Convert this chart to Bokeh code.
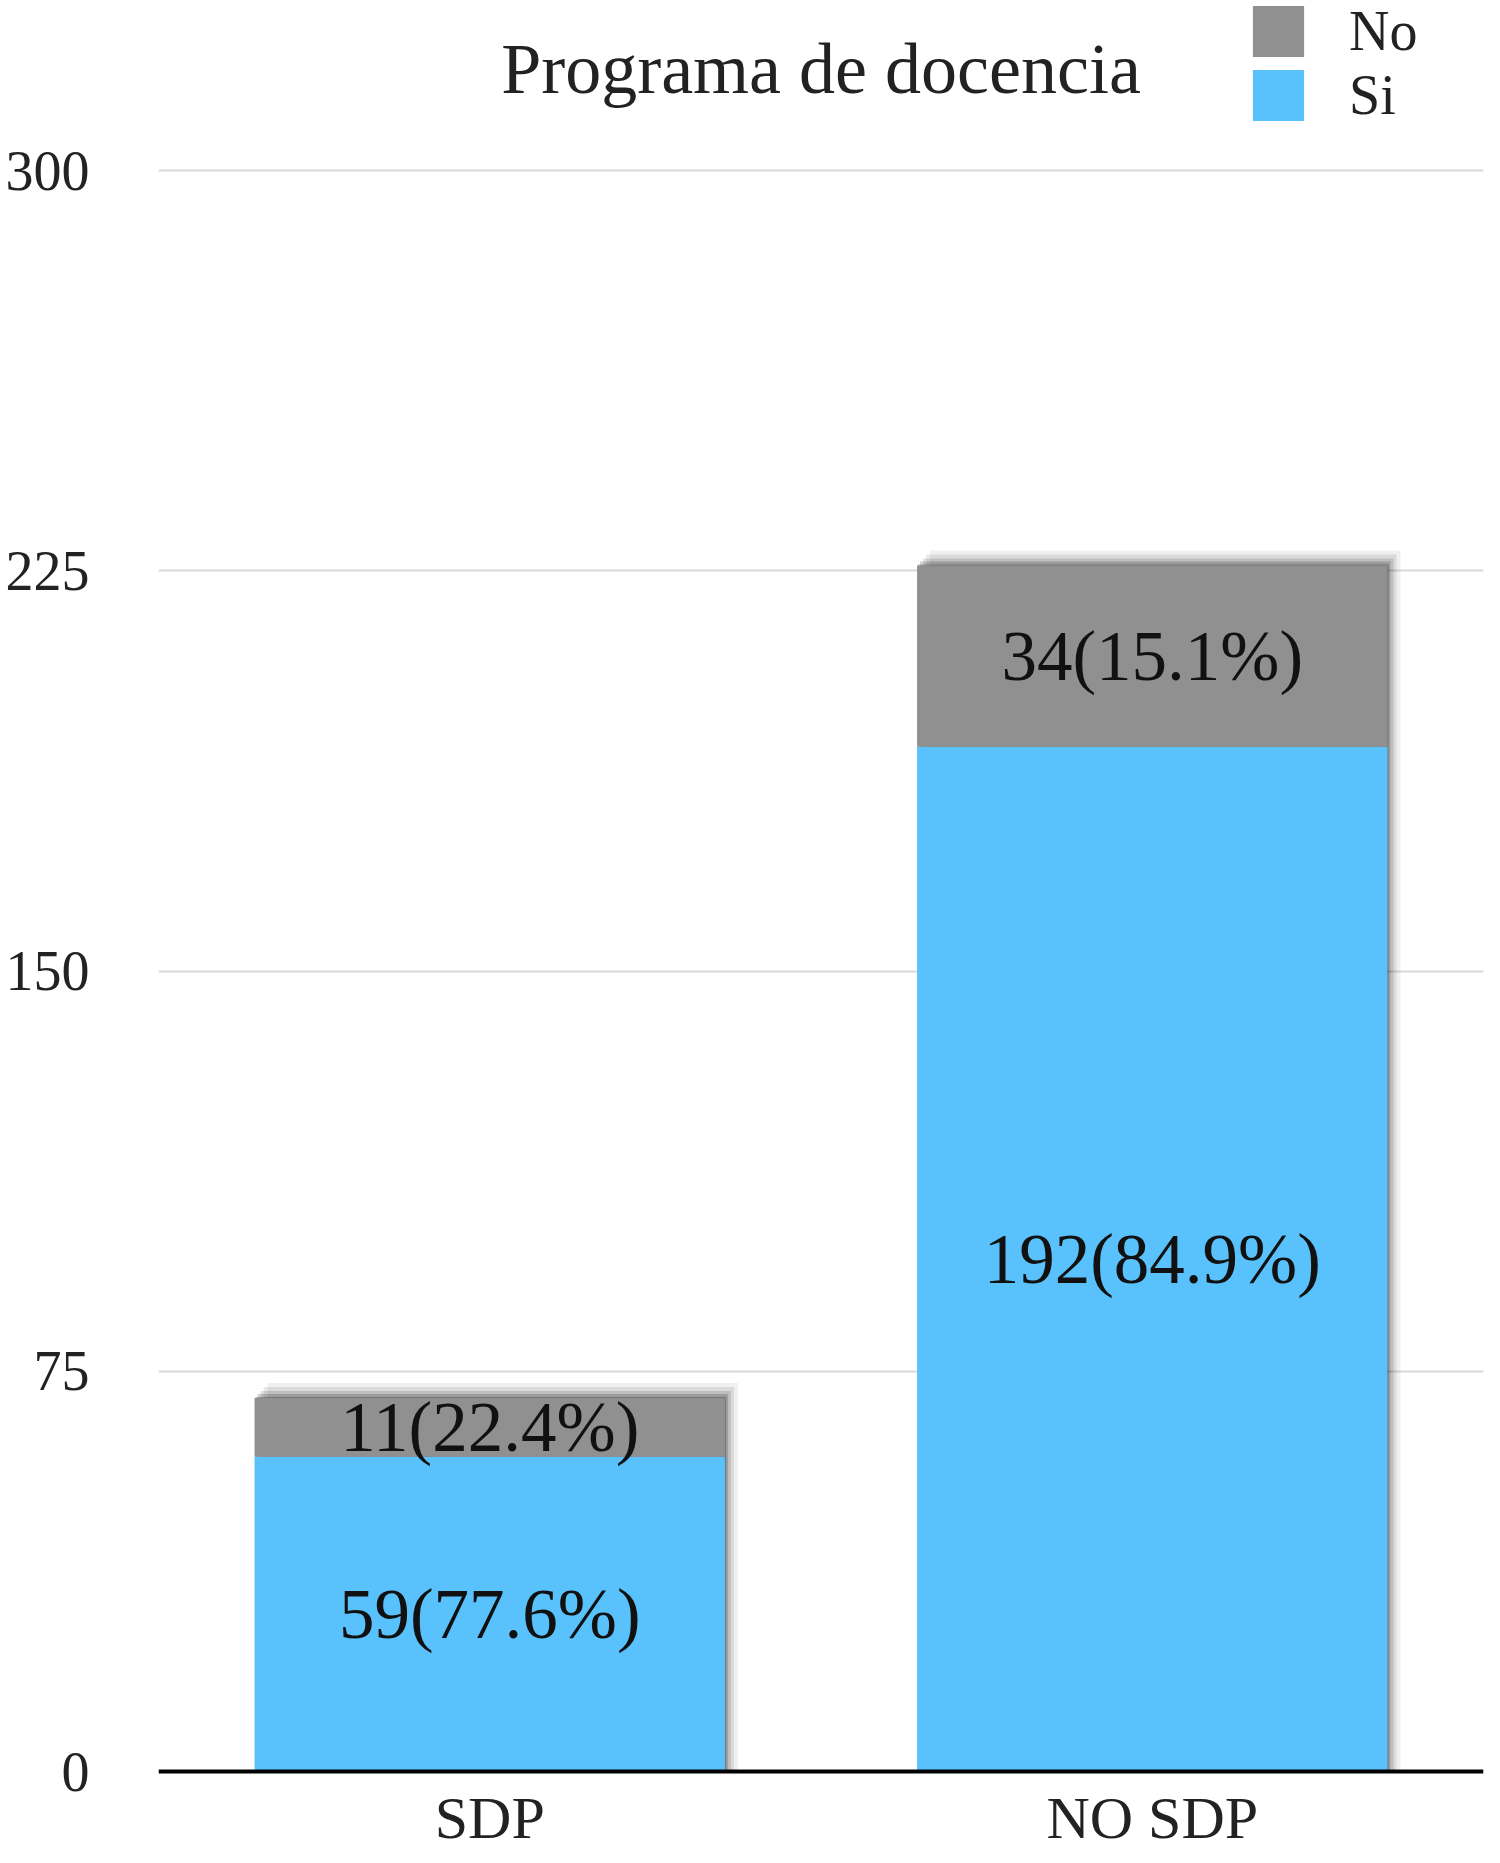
from bokeh.plotting import figure
from bokeh.models import (FactorRange, Range1d, FixedTicker, Label, Legend,
                          LegendItem, ColumnDataSource, Span)
from bokeh.transform import dodge
from bokeh.core.properties import value
from bokeh.embed import file_html
from bokeh.resources import INLINE

# ---- data ----
categories = ["SDP", "NO SDP"]
si_values = [59, 192]
no_values = [11, 34]
si_labels = ["59(77.6%)", "192(84.9%)"]
no_labels = ["11(22.4%)", "34(15.1%)"]
y_ticks = [0, 75, 150, 225, 300]
title_text = "Programa de docencia"
series_names = ["Si", "No"]

# ---- style / layout ----
FONT = "Liberation Serif"
BLUE = "#59c2fd"
GRAY = "#909090"
W, H = 1484, 1855
BAR_W = 0.71
LEFT, RIGHT = 158, 1
TOP_Y = 170                # canvas px of the top tick (300)
ZERO_Y = 1771              # canvas px of the zero line
frame_w = W - LEFT - RIGHT
y_top = max(y_ticks)
ppu = (ZERO_Y - TOP_Y) / y_top
y_start = -(H - ZERO_Y) / ppu
y_end = y_top + TOP_Y / ppu
px_per_cat = frame_w / len(categories)

totals = [s + n for s, n in zip(si_values, no_values)]
data = dict(
    cat=categories, Si=si_values, No=no_values, total=totals,
    zero=[0] * len(categories),
    si_mid=[s / 2 for s in si_values],
    no_mid=[s + n / 2 for s, n in zip(si_values, no_values)],
    si_lbl=si_labels, no_lbl=no_labels,
)
# soft drop shadow layers: (right offset px, top offset px, alpha)
shadow_layers = [(13, 15, 0.06), (9, 11, 0.09), (6, 7, 0.12), (3, 4, 0.18), (1, 1, 0.25)]
for i, (dxp, dyp, a) in enumerate(shadow_layers):
    data[f"sh{i}"] = [t + dyp / ppu for t in totals]
src = ColumnDataSource(data)

p = figure(width=W, height=H, title=None,
           x_range=FactorRange(factors=categories, range_padding=0),
           y_range=Range1d(y_start, y_end),
           output_backend="svg", toolbar_location=None,
           min_border_left=LEFT, min_border_right=RIGHT,
           min_border_top=0, min_border_bottom=0)
p.outline_line_color = None
p.background_fill_color = "white"
p.border_fill_color = "white"

for i, (dxp, dyp, a) in enumerate(shadow_layers):
    p.vbar(x=dodge("cat", dxp / px_per_cat, range=p.x_range), top=f"sh{i}",
           bottom=0, width=BAR_W, source=src, fill_color="black",
           fill_alpha=a, line_color=None)

rs = p.vbar_stack(series_names, x="cat", width=BAR_W, color=[BLUE, GRAY],
                  line_color=None, source=src)
si_r, no_r = rs

for ycol, tcol in [("si_mid", "si_lbl"), ("no_mid", "no_lbl")]:
    p.text(x="cat", y=ycol, text=tcol, source=src, text_align="center",
           text_baseline="middle", text_font=value(FONT),
           text_font_size="71px", text_color="#111111")

# zero baseline
p.add_layout(Span(location=0, dimension="width", line_color="black",
                  line_width=4))

# category labels under the baseline
p.text(x="cat", y="zero", text="cat", source=src, text_align="center",
       text_baseline="middle", y_offset=46, text_font=value(FONT),
       text_font_size="60px", text_color="#222222")

# axes
p.xaxis.visible = False
p.yaxis.ticker = FixedTicker(ticks=y_ticks)
p.yaxis.axis_line_color = None
p.yaxis.major_tick_line_color = None
p.yaxis.major_tick_out = 0
p.yaxis.minor_tick_line_color = None
p.yaxis.major_label_text_font = FONT
p.yaxis.major_label_text_font_size = "56px"
p.yaxis.major_label_text_color = "#222222"
p.yaxis.major_label_standoff = 69

p.ygrid.ticker = FixedTicker(ticks=y_ticks)
p.ygrid.grid_line_color = "#d9d9d9"
p.ygrid.grid_line_width = 2
p.xgrid.grid_line_color = None

# title (screen units are relative to the frame's bottom-left corner)
p.add_layout(Label(x=frame_w / 2, y=H - 68,
                   x_units="screen", y_units="screen", text=title_text,
                   text_align="center", text_baseline="middle",
                   text_font=FONT, text_font_size="72px",
                   text_color="#222222"))

# legend
legend = Legend(items=[LegendItem(label="No", renderers=[no_r]),
                       LegendItem(label="Si", renderers=[si_r])],
                location=(1088, H - 127),
                glyph_width=64, glyph_height=64, label_height=64,
                spacing=0, padding=0, margin=0,
                border_line_color=None, background_fill_alpha=0,
                label_text_font=FONT, label_text_font_size="56px",
                label_text_color="#222222", label_standoff=39)
p.add_layout(legend)

open("out.html", "w").write(file_html(p, INLINE))
